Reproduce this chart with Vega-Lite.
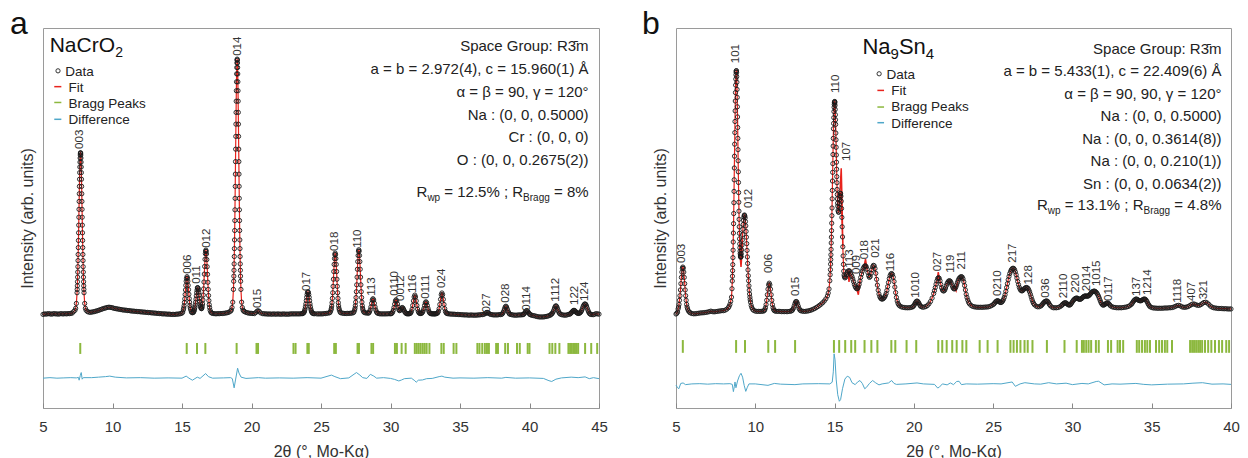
{
"$schema": "https://vega.github.io/schema/vega-lite/v6.json",
"padding": {"left": 9, "top": 7, "right": 0, "bottom": 0},
"spacing": 33,
"config": {
 "font": "Liberation Sans",
 "view": {"stroke": "#9a9a9a", "strokeWidth": 1},
 "axisX": {"grid": false, "domain": false, "tickSize": -5, "tickColor": "#888", "labelPadding": 16, "labelFontSize": 15, "labelColor": "#333", "labelFlush": false, "titleFontSize": 16, "titleFontWeight": "normal", "titleColor": "#333", "titlePadding": 9},
 "axisY": {"grid": false, "domain": false, "ticks": false, "labels": false, "titleFontSize": 16, "titleFontWeight": "normal", "titleColor": "#333", "titlePadding": 8}
},
"datasets": {
"ab": [{"x":7.68},{"x":15.34},{"x":16.08},{"x":16.68},{"x":18.93},{"x":20.36},{"x":20.47},{"x":23.02},{"x":23.17},{"x":24.02},{"x":24.12},{"x":25.95},{"x":26.07},{"x":27.63},{"x":27.73},{"x":28.63},{"x":28.75},{"x":30.32},{"x":30.46},{"x":30.8},{"x":31.09},{"x":31.75},{"x":31.89},{"x":32.03},{"x":32.17},{"x":32.32},{"x":32.46},{"x":32.6},{"x":32.8},{"x":33.66},{"x":33.83},{"x":34.54},{"x":34.74},{"x":36.25},{"x":36.4},{"x":36.6},{"x":36.79},{"x":36.94},{"x":37.08},{"x":37.6},{"x":37.73},{"x":38.25},{"x":38.45},{"x":39.1},{"x":39.3},{"x":39.87},{"x":40.0},{"x":41.44},{"x":41.64},{"x":41.86},{"x":42.15},{"x":42.8},{"x":42.92},{"x":43.04},{"x":43.15},{"x":43.27},{"x":43.38},{"x":43.5},{"x":44.0},{"x":44.44},{"x":44.87}],
"ad": [{"x":5.0,"y":-24.8},{"x":5.5,"y":-24.6},{"x":6.0,"y":-24.8},{"x":6.5,"y":-24.7},{"x":7.0,"y":-24.6},{"x":7.4,"y":-24.7},{"x":7.55,"y":-24.5},{"x":7.6,"y":-25.6},{"x":7.68,"y":-23.8},{"x":7.75,"y":-22.6},{"x":7.82,"y":-25.2},{"x":7.9,"y":-24.6},{"x":8.5,"y":-24.6},{"x":9.0,"y":-24.4},{"x":9.5,"y":-24.2},{"x":9.8,"y":-24.0},{"x":10.2,"y":-24.4},{"x":11.0,"y":-24.7},{"x":12.0,"y":-24.6},{"x":13.0,"y":-24.8},{"x":14.0,"y":-24.7},{"x":15.0,"y":-24.8},{"x":15.3,"y":-24.0},{"x":15.5,"y":-24.8},{"x":15.75,"y":-25.6},{"x":16.1,"y":-24.4},{"x":16.3,"y":-24.9},{"x":16.7,"y":-23.0},{"x":16.9,"y":-24.2},{"x":17.2,"y":-24.8},{"x":18.0,"y":-24.7},{"x":18.5,"y":-24.6},{"x":18.62,"y":-25.0},{"x":18.75,"y":-28.6},{"x":18.85,"y":-25.5},{"x":19.0,"y":-20.9},{"x":19.1,"y":-22.8},{"x":19.25,"y":-24.4},{"x":19.6,"y":-24.9},{"x":20.5,"y":-24.6},{"x":21.0,"y":-24.8},{"x":22.0,"y":-24.7},{"x":23.0,"y":-24.8},{"x":24.0,"y":-24.6},{"x":25.0,"y":-24.8},{"x":25.75,"y":-23.6},{"x":26.0,"y":-24.2},{"x":26.4,"y":-25.0},{"x":27.0,"y":-24.7},{"x":27.55,"y":-22.6},{"x":27.8,"y":-23.6},{"x":28.0,"y":-24.6},{"x":28.3,"y":-24.9},{"x":28.55,"y":-23.3},{"x":28.8,"y":-24.0},{"x":29.0,"y":-24.8},{"x":29.5,"y":-24.6},{"x":30.0,"y":-24.9},{"x":30.3,"y":-25.3},{"x":30.6,"y":-25.9},{"x":30.8,"y":-25.5},{"x":31.0,"y":-25.0},{"x":31.5,"y":-24.8},{"x":31.75,"y":-25.8},{"x":31.85,"y":-26.4},{"x":32.0,"y":-25.6},{"x":32.3,"y":-25.5},{"x":32.6,"y":-25.0},{"x":33.0,"y":-24.9},{"x":33.5,"y":-24.2},{"x":33.7,"y":-24.0},{"x":33.9,"y":-24.4},{"x":34.5,"y":-24.8},{"x":35.0,"y":-24.7},{"x":36.0,"y":-24.8},{"x":37.0,"y":-24.6},{"x":38.0,"y":-24.8},{"x":38.3,"y":-24.5},{"x":39.0,"y":-24.8},{"x":40.0,"y":-24.7},{"x":41.0,"y":-24.9},{"x":41.4,"y":-25.8},{"x":41.6,"y":-26.1},{"x":41.9,"y":-25.2},{"x":42.3,"y":-24.7},{"x":43.0,"y":-24.4},{"x":43.5,"y":-24.6},{"x":44.0,"y":-24.3},{"x":44.3,"y":-25.0},{"x":44.6,"y":-24.6},{"x":45.0,"y":-25.0}],
"al": [{"x":7.67,"y":65.1,"t":"003"},{"x":15.4,"y":16.1,"t":"006"},{"x":16.05,"y":12.2,"t":"011"},{"x":16.77,"y":26.3,"t":"012"},{"x":19.03,"y":101.6,"t":"014"},{"x":20.49,"y":2.7,"t":"015"},{"x":24.02,"y":9.4,"t":"017"},{"x":26.0,"y":25.1,"t":"018"},{"x":27.68,"y":26.3,"t":"110"},{"x":28.69,"y":7.5,"t":"113"},{"x":30.32,"y":7.5,"t":"0110"},{"x":30.78,"y":5.5,"t":"0012"},{"x":31.64,"y":8.6,"t":"116"},{"x":32.54,"y":6.3,"t":"0111"},{"x":33.73,"y":10.6,"t":"024"},{"x":36.97,"y":0.9,"t":"027"},{"x":38.33,"y":4.8,"t":"028"},{"x":39.84,"y":1.6,"t":"0114"},{"x":41.93,"y":5.2,"t":"1112"},{"x":43.25,"y":3.9,"t":"122"},{"x":44.02,"y":5.5,"t":"124"}],
"ao": [{"x":5.0,"y":0.2},{"x":5.1,"y":0.4},{"x":5.2,"y":0.3},{"x":5.3,"y":0.4},{"x":5.4,"y":0.5},{"x":5.5,"y":0.4},{"x":5.6,"y":0.3},{"x":5.7,"y":0.4},{"x":5.8,"y":0.5},{"x":5.9,"y":0.4},{"x":6.0,"y":0.4},{"x":6.1,"y":0.3},{"x":6.2,"y":0.4},{"x":6.3,"y":0.5},{"x":6.4,"y":0.4},{"x":6.5,"y":0.4},{"x":6.6,"y":0.5},{"x":6.7,"y":0.4},{"x":6.8,"y":0.5},{"x":6.9,"y":0.5},{"x":7.0,"y":0.6},{"x":7.1,"y":0.7},{"x":7.2,"y":1.3},{"x":7.3,"y":1.8},{"x":7.35,"y":2.6},{"x":7.4,"y":4.5},{"x":7.45,"y":8.7},
{"x":7.46,"y":10.0},{"x":7.47,"y":11.4},{"x":7.48,"y":13.0},{"x":7.49,"y":14.8},{"x":7.5,"y":16.8},{"x":7.51,"y":18.9},{"x":7.52,"y":21.3},{"x":7.53,"y":23.7},{"x":7.54,"y":26.4},{"x":7.55,"y":29.2},{"x":7.56,"y":32.2},{"x":7.57,"y":35.2},{"x":7.58,"y":38.3},{"x":7.59,"y":41.4},{"x":7.6,"y":44.5},{"x":7.61,"y":47.5},{"x":7.62,"y":50.4},{"x":7.63,"y":53.2},{"x":7.64,"y":55.8},{"x":7.65,"y":58.0},{"x":7.66,"y":59.9},{"x":7.67,"y":61.5},{"x":7.68,"y":62.7},{"x":7.69,"y":63.4},{"x":7.7,"y":63.6},{"x":7.71,"y":63.4},{"x":7.72,"y":62.7},{"x":7.73,"y":61.5},{"x":7.74,"y":59.9},{"x":7.75,"y":58.0},{"x":7.76,"y":55.8},{"x":7.77,"y":53.2},{"x":7.78,"y":50.4},{"x":7.79,"y":47.5},{"x":7.8,"y":44.5},{"x":7.81,"y":41.4},{"x":7.82,"y":38.3},{"x":7.83,"y":35.2},{"x":7.84,"y":32.2},{"x":7.85,"y":29.2},{"x":7.86,"y":26.4},{"x":7.87,"y":23.7},{"x":7.88,"y":21.3},{"x":7.89,"y":18.9},{"x":7.9,"y":16.8},{"x":7.91,"y":14.8},{"x":7.92,"y":13.0},{"x":7.93,"y":11.4},{"x":7.94,"y":10.0},{"x":7.95,"y":8.7},{"x":8.0,"y":4.5},{"x":8.05,"y":2.6},{"x":8.1,"y":1.8},{"x":8.2,"y":1.3},
{"x":8.3,"y":1.1},{"x":8.4,"y":1.0},{"x":8.5,"y":1.1},{"x":8.6,"y":1.2},{"x":8.7,"y":1.3},{"x":8.8,"y":1.5},{"x":8.9,"y":1.6},{"x":9.0,"y":1.8},{"x":9.1,"y":2.0},{"x":9.2,"y":2.2},{"x":9.3,"y":2.4},{"x":9.4,"y":2.6},{"x":9.5,"y":2.7},{"x":9.6,"y":2.9},{"x":9.7,"y":3.0},{"x":9.8,"y":3.0},{"x":9.9,"y":2.9},{"x":10.0,"y":2.8},{"x":10.1,"y":2.6},{"x":10.2,"y":2.5},{"x":10.3,"y":2.4},{"x":10.4,"y":2.3},{"x":10.5,"y":2.2},{"x":10.6,"y":2.1},{"x":10.7,"y":2.0},{"x":10.8,"y":1.9},{"x":10.9,"y":1.9},{"x":11.0,"y":1.8},{"x":11.1,"y":1.7},{"x":11.2,"y":1.7},{"x":11.3,"y":1.6},{"x":11.4,"y":1.5},{"x":11.5,"y":1.5},{"x":11.6,"y":1.4},{"x":11.7,"y":1.4},{"x":11.8,"y":1.3},{"x":11.9,"y":1.3},{"x":12.0,"y":1.2},{"x":12.1,"y":1.2},{"x":12.2,"y":1.1},{"x":12.3,"y":1.1},{"x":12.4,"y":1.0},{"x":12.5,"y":1.0},{"x":12.6,"y":0.9},{"x":12.7,"y":0.9},{"x":12.8,"y":0.8},{"x":12.9,"y":0.8},{"x":13.0,"y":0.7},{"x":13.1,"y":0.7},{"x":13.2,"y":0.6},{"x":13.3,"y":0.6},{"x":13.4,"y":0.5},{"x":13.5,"y":0.5},{"x":13.6,"y":0.4},{"x":13.7,"y":0.4},{"x":13.8,"y":0.4},{"x":13.9,"y":0.3},{"x":14.0,"y":0.3},{"x":14.1,"y":0.3},{"x":14.2,"y":0.2},{"x":14.3,"y":0.2},{"x":14.4,"y":0.2},{"x":14.5,"y":0.2},{"x":14.6,"y":0.3},{"x":14.7,"y":0.3},{"x":14.8,"y":0.4},{"x":14.9,"y":0.5},{"x":15.0,"y":0.7},
{"x":15.05,"y":1.1},{"x":15.1,"y":2.0},{"x":15.125,"y":2.7},{"x":15.15,"y":3.6},{"x":15.175,"y":4.9},{"x":15.2,"y":6.3},{"x":15.225,"y":8.0},{"x":15.25,"y":9.8},{"x":15.275,"y":11.6},{"x":15.3,"y":13.2},{"x":15.325,"y":14.3},{"x":15.36,"y":15.0},{"x":15.395,"y":14.4},{"x":15.42,"y":13.2},{"x":15.445,"y":11.6},{"x":15.47,"y":9.9},{"x":15.495,"y":8.1},{"x":15.52,"y":6.4},{"x":15.545,"y":5.0},{"x":15.57,"y":3.7},{"x":15.595,"y":2.8},{"x":15.62,"y":2.1},{"x":15.67,"y":1.2},{"x":15.72,"y":0.9},{"x":15.77,"y":0.86},{"x":15.82,"y":1.0},{"x":15.85,"y":1.3},{"x":15.88,"y":1.75},{"x":15.905,"y":2.3},{"x":15.93,"y":3.0},{"x":15.955,"y":3.9},{"x":15.98,"y":5.0},{"x":16.005,"y":6.2},{"x":16.03,"y":7.5},{"x":16.055,"y":8.7},{"x":16.08,"y":9.7},{"x":16.105,"y":10.6},{"x":16.13,"y":10.7},{"x":16.155,"y":10.5},{"x":16.18,"y":9.85},{"x":16.205,"y":8.9},{"x":16.23,"y":7.7},{"x":16.255,"y":6.4},{"x":16.28,"y":5.25},{"x":16.305,"y":4.25},{"x":16.33,"y":3.4},{"x":16.355,"y":2.9},{"x":16.38,"y":2.5},{"x":16.405,"y":2.45},{"x":16.43,"y":2.7},{"x":16.455,"y":3.35},{"x":16.48,"y":4.3},{"x":16.505,"y":5.85},{"x":16.53,"y":7.8},{"x":16.555,"y":10.2},{"x":16.58,"y":12.9},{"x":16.605,"y":16.0},{"x":16.63,"y":19.0},{"x":16.655,"y":21.8},{"x":16.68,"y":24.0},{"x":16.7,"y":25.0},{"x":16.72,"y":25.4},{"x":16.74,"y":24.9},{"x":16.76,"y":23.9},{"x":16.785,"y":21.7},{"x":16.81,"y":18.9},{"x":16.835,"y":15.9},{"x":16.86,"y":12.8},{"x":16.885,"y":10.0},{"x":16.91,"y":7.6},{"x":16.935,"y":5.6},{"x":16.96,"y":4.0},{"x":16.985,"y":2.9},{"x":17.02,"y":1.85},{"x":17.07,"y":1.1},{"x":17.12,"y":0.8},{"x":17.2,"y":0.6},{"x":17.3,"y":0.5},{"x":17.4,"y":0.45},{"x":17.5,"y":0.45},{"x":17.6,"y":0.5},{"x":17.7,"y":0.5},{"x":17.8,"y":0.55},{"x":17.9,"y":0.55},{"x":18.0,"y":0.6},{"x":18.1,"y":0.7},{"x":18.2,"y":0.8},{"x":18.3,"y":0.9},{"x":18.4,"y":1.15},{"x":18.5,"y":1.5},{"x":18.55,"y":1.9},{"x":18.6,"y":2.9},{"x":18.65,"y":5.0},{"x":18.7,"y":10.0},{"x":18.72,"y":13.2},
{"x":18.73,"y":15.2},{"x":18.74,"y":17.5},{"x":18.75,"y":20.0},{"x":18.76,"y":22.9},{"x":18.77,"y":26.0},{"x":18.78,"y":29.4},{"x":18.79,"y":33.1},{"x":18.8,"y":37.0},{"x":18.81,"y":41.2},{"x":18.82,"y":45.7},{"x":18.83,"y":50.4},{"x":18.84,"y":55.2},{"x":18.85,"y":60.1},{"x":18.86,"y":65.0},{"x":18.87,"y":70.0},{"x":18.88,"y":74.8},{"x":18.89,"y":79.4},{"x":18.9,"y":83.8},{"x":18.91,"y":87.9},{"x":18.92,"y":91.4},{"x":18.93,"y":94.5},{"x":18.94,"y":97.0},{"x":18.95,"y":98.8},{"x":18.96,"y":99.9},{"x":18.97,"y":100.3},{"x":18.98,"y":99.9},{"x":18.99,"y":98.8},{"x":19.0,"y":97.0},{"x":19.01,"y":94.5},{"x":19.02,"y":91.4},{"x":19.03,"y":87.9},{"x":19.04,"y":83.8},{"x":19.05,"y":79.4},{"x":19.06,"y":74.8},{"x":19.07,"y":70.0},{"x":19.08,"y":65.0},{"x":19.09,"y":60.1},{"x":19.1,"y":55.2},{"x":19.11,"y":50.4},{"x":19.12,"y":45.7},{"x":19.13,"y":41.2},{"x":19.14,"y":37.0},{"x":19.15,"y":33.1},{"x":19.16,"y":29.4},{"x":19.17,"y":26.0},{"x":19.18,"y":22.9},{"x":19.19,"y":20.0},{"x":19.2,"y":17.5},{"x":19.21,"y":15.2},{"x":19.22,"y":13.2},{"x":19.24,"y":10.0},{"x":19.29,"y":5.0},{"x":19.34,"y":2.9},{"x":19.39,"y":1.9},{"x":19.44,"y":1.5},{"x":19.5,"y":1.3},{"x":19.6,"y":1.0},{"x":19.7,"y":0.85},{"x":19.8,"y":0.7},{"x":19.9,"y":0.65},{"x":20.0,"y":0.6},{"x":20.1,"y":0.55},{"x":20.2,"y":0.5},{"x":20.3,"y":0.9},{"x":20.4,"y":1.45},{"x":20.47,"y":1.65},{"x":20.55,"y":1.4},{"x":20.65,"y":0.8},{"x":20.8,"y":0.5},{"x":20.9,"y":0.45},{"x":21.0,"y":0.4},{"x":21.1,"y":0.4},{"x":21.2,"y":0.3},{"x":21.3,"y":0.4},{"x":21.4,"y":0.3},{"x":21.5,"y":0.3},{"x":21.6,"y":0.4},{"x":21.7,"y":0.3},{"x":21.8,"y":0.3},{"x":21.9,"y":0.4},{"x":22.0,"y":0.3},{"x":22.1,"y":0.3},{"x":22.2,"y":0.3},{"x":22.3,"y":0.4},{"x":22.4,"y":0.3},{"x":22.5,"y":0.3},{"x":22.6,"y":0.3},{"x":22.7,"y":0.3},{"x":22.8,"y":0.4},{"x":22.9,"y":0.4},{"x":23.0,"y":0.4},{"x":23.1,"y":0.4},{"x":23.2,"y":0.4},{"x":23.3,"y":0.4},{"x":23.4,"y":0.4},{"x":23.5,"y":0.4},{"x":23.6,"y":0.5},{"x":23.66,"y":0.5},{"x":23.71,"y":0.6},{"x":23.76,"y":0.85},{"x":23.79,"y":1.15},{"x":23.82,"y":1.6},{"x":23.85,"y":2.3},{"x":23.88,"y":3.2},{"x":23.91,"y":4.3},{"x":23.94,"y":5.6},{"x":23.97,"y":6.9},{"x":24.0,"y":8.0},{"x":24.03,"y":8.8},{"x":24.06,"y":9.1},{"x":24.09,"y":8.8},{"x":24.12,"y":8.0},{"x":24.15,"y":6.9},{"x":24.18,"y":5.6},{"x":24.21,"y":4.3},{"x":24.24,"y":3.2},{"x":24.27,"y":2.3},{"x":24.3,"y":1.6},{"x":24.33,"y":1.15},{"x":24.36,"y":0.85},{"x":24.41,"y":0.6},{"x":24.46,"y":0.5},{"x":24.55,"y":0.45},{"x":24.7,"y":0.4},{"x":24.8,"y":0.4},{"x":24.9,"y":0.4},{"x":25.0,"y":0.4},{"x":25.1,"y":0.4},{"x":25.2,"y":0.5},{"x":25.3,"y":0.5},{"x":25.4,"y":0.6},{"x":25.52,"y":0.7},{"x":25.62,"y":0.85},{"x":25.67,"y":1.15},{"x":25.72,"y":1.9},{"x":25.745,"y":2.55},{"x":25.77,"y":3.5},{"x":25.795,"y":4.8},{"x":25.82,"y":6.5},{"x":25.845,"y":8.7},{"x":25.87,"y":11.2},{"x":25.895,"y":14.0},{"x":25.92,"y":17.0},{"x":25.945,"y":19.8},{"x":25.97,"y":22.1},{"x":25.995,"y":23.65},{"x":26.02,"y":24.2},{"x":26.045,"y":23.65},{"x":26.07,"y":22.1},{"x":26.095,"y":19.8},{"x":26.12,"y":17.0},{"x":26.145,"y":14.0},{"x":26.17,"y":11.2},{"x":26.195,"y":8.7},{"x":26.22,"y":6.5},{"x":26.245,"y":4.8},{"x":26.27,"y":3.5},{"x":26.295,"y":2.55},{"x":26.32,"y":1.9},{"x":26.37,"y":1.15},{"x":26.42,"y":0.85},{"x":26.52,"y":0.7},{"x":26.62,"y":0.6},{"x":26.72,"y":0.55},{"x":26.82,"y":0.55},{"x":26.92,"y":0.6},{"x":27.02,"y":0.6},{"x":27.12,"y":0.65},{"x":27.22,"y":0.7},{"x":27.32,"y":0.85},{"x":27.37,"y":1.15},{"x":27.42,"y":1.9},{"x":27.445,"y":2.6},{"x":27.47,"y":3.6},{"x":27.495,"y":5.0},{"x":27.52,"y":6.8},{"x":27.545,"y":9.1},{"x":27.57,"y":11.8},{"x":27.595,"y":14.8},{"x":27.62,"y":17.9},{"x":27.645,"y":20.9},{"x":27.67,"y":23.3},{"x":27.695,"y":25.0},{"x":27.72,"y":25.55},{"x":27.745,"y":25.0},{"x":27.77,"y":23.3},{"x":27.795,"y":20.9},{"x":27.82,"y":17.9},{"x":27.845,"y":14.8},{"x":27.87,"y":11.8},{"x":27.895,"y":9.1},{"x":27.92,"y":6.8},{"x":27.945,"y":5.0},{"x":27.97,"y":3.6},{"x":27.995,"y":2.6},{"x":28.02,"y":1.9},{"x":28.07,"y":1.2},{"x":28.12,"y":0.95},{"x":28.22,"y":0.75},{"x":28.32,"y":0.75},{"x":28.4,"y":0.7},{"x":28.44,"y":0.8},{"x":28.49,"y":1.2},{"x":28.54,"y":1.95},{"x":28.59,"y":3.1},{"x":28.64,"y":4.55},{"x":28.69,"y":5.85},{"x":28.74,"y":6.35},{"x":28.79,"y":5.85},{"x":28.84,"y":4.55},{"x":28.89,"y":3.1},{"x":28.94,"y":1.95},{"x":28.99,"y":1.2},{"x":29.04,"y":0.8},{"x":29.1,"y":0.6},{"x":29.2,"y":0.45},{"x":29.3,"y":0.4},{"x":29.4,"y":0.4},{"x":29.5,"y":0.4},{"x":29.6,"y":0.4},{"x":29.7,"y":0.4},{"x":29.8,"y":0.45},{"x":29.9,"y":0.45},{"x":30.0,"y":0.45},{"x":30.05,"y":0.5},{"x":30.1,"y":0.65},{"x":30.15,"y":1.05},{"x":30.2,"y":1.8},{"x":30.25,"y":2.9},{"x":30.3,"y":4.25},{"x":30.35,"y":5.45},{"x":30.4,"y":5.95},{"x":30.45,"y":5.45},{"x":30.5,"y":4.3},{"x":30.55,"y":3.0},{"x":30.6,"y":2.06},{"x":30.65,"y":1.66},{"x":30.7,"y":1.8},{"x":30.75,"y":2.2},{"x":30.8,"y":2.7},{"x":30.85,"y":2.9},{"x":30.9,"y":2.65},{"x":30.95,"y":2.1},{"x":31.0,"y":1.5},{"x":31.05,"y":1.0},{"x":31.1,"y":0.7},{"x":31.15,"y":0.5},{"x":31.2,"y":0.45},{"x":31.25,"y":0.45},{"x":31.3,"y":0.45},{"x":31.35,"y":0.45},{"x":31.4,"y":0.55},{"x":31.45,"y":0.75},{"x":31.5,"y":1.25},{"x":31.55,"y":2.2},{"x":31.6,"y":3.7},{"x":31.65,"y":5.5},{"x":31.7,"y":7.05},{"x":31.75,"y":7.75},{"x":31.8,"y":7.05},{"x":31.85,"y":5.5},{"x":31.9,"y":3.7},{"x":31.95,"y":2.25},{"x":32.0,"y":1.3},{"x":32.05,"y":0.8},{"x":32.1,"y":0.6},{"x":32.15,"y":0.55},{"x":32.2,"y":0.55},{"x":32.25,"y":0.7},{"x":32.3,"y":1.0},{"x":32.35,"y":1.6},{"x":32.4,"y":2.5},{"x":32.45,"y":3.7},{"x":32.5,"y":4.7},{"x":32.55,"y":5.15},{"x":32.6,"y":4.75},{"x":32.65,"y":3.7},{"x":32.7,"y":2.55},{"x":32.75,"y":1.6},{"x":32.8,"y":0.95},{"x":32.85,"y":0.65},{"x":32.9,"y":0.5},{"x":32.95,"y":0.45},{"x":33.0,"y":0.42},{"x":33.05,"y":0.45},{"x":33.1,"y":0.4},{"x":33.15,"y":0.4},{"x":33.2,"y":0.4},{"x":33.25,"y":0.45},{"x":33.3,"y":0.5},{"x":33.35,"y":0.6},{"x":33.4,"y":0.85},{"x":33.45,"y":1.4},{"x":33.5,"y":2.45},{"x":33.55,"y":4.1},{"x":33.6,"y":6.1},{"x":33.65,"y":7.9},{"x":33.7,"y":8.6},{"x":33.75,"y":7.9},{"x":33.8,"y":6.1},{"x":33.85,"y":4.1},{"x":33.9,"y":2.45},{"x":33.95,"y":1.4},{"x":34.0,"y":0.85},{"x":34.05,"y":0.6},{"x":34.1,"y":0.5},{"x":34.2,"y":0.4},{"x":34.3,"y":0.35},{"x":34.4,"y":0.3},{"x":34.5,"y":0.3},{"x":34.6,"y":0.25},{"x":34.7,"y":0.2},{"x":34.8,"y":0.2},{"x":34.9,"y":0.15},{"x":35.0,"y":0.1},{"x":35.1,"y":0.1},{"x":35.2,"y":0.05},{"x":35.3,"y":0},{"x":35.4,"y":0},{"x":35.5,"y":0},{"x":35.6,"y":-0.1},{"x":35.7,"y":-0.1},{"x":35.8,"y":0},{"x":35.9,"y":-0.1},{"x":36.0,"y":-0.1},{"x":36.1,"y":-0.1},{"x":36.2,"y":-0.1},{"x":36.3,"y":0},{"x":36.4,"y":0},{"x":36.5,"y":0.1},{"x":36.6,"y":0.1},{"x":36.7,"y":0.2},{"x":36.8,"y":0.45},{"x":36.85,"y":0.7},{"x":36.9,"y":0.9},{"x":36.95,"y":1.0},{"x":37.0,"y":0.9},{"x":37.05,"y":0.7},{"x":37.1,"y":0.45},{"x":37.2,"y":0.2},{"x":37.3,"y":0.1},{"x":37.4,"y":0},{"x":37.5,"y":0},{"x":37.6,"y":0},{"x":37.7,"y":0},{"x":37.8,"y":0.1},{"x":37.9,"y":0.1},{"x":38.0,"y":0.2},{"x":38.05,"y":0.45},{"x":38.1,"y":0.9},{"x":38.15,"y":1.55},{"x":38.2,"y":2.37},{"x":38.25,"y":3.1},{"x":38.3,"y":3.4},{"x":38.35,"y":3.1},{"x":38.4,"y":2.37},{"x":38.45,"y":1.55},{"x":38.5,"y":0.9},{"x":38.55,"y":0.45},{"x":38.6,"y":0.25},{"x":38.7,"y":0.1},{"x":38.8,"y":0},{"x":38.9,"y":-0.1},{"x":39.0,"y":-0.1},{"x":39.1,"y":-0.1},{"x":39.2,"y":0},{"x":39.3,"y":0},{"x":39.4,"y":0},{"x":39.5,"y":0.1},{"x":39.55,"y":0.13},{"x":39.6,"y":0.36},{"x":39.65,"y":0.72},{"x":39.7,"y":1.15},{"x":39.75,"y":1.55},{"x":39.8,"y":1.7},{"x":39.85,"y":1.55},{"x":39.9,"y":1.15},{"x":39.95,"y":0.72},{"x":40.0,"y":0.36},{"x":40.05,"y":0.13},{"x":40.1,"y":0},{"x":40.2,"y":-0.2},{"x":40.3,"y":-0.3},{"x":40.4,"y":-0.4},{"x":40.5,"y":-0.6},{"x":40.6,"y":-0.7},{"x":40.7,"y":-0.8},{"x":40.8,"y":-0.8},{"x":40.9,"y":-0.8},{"x":41.0,"y":-0.8},{"x":41.1,"y":-0.7},{"x":41.2,"y":-0.6},{"x":41.3,"y":-0.5},{"x":41.4,"y":-0.3},{"x":41.5,"y":-0.1},{"x":41.55,"y":0.2},{"x":41.6,"y":0.4},{"x":41.65,"y":0.7},{"x":41.7,"y":1.2},{"x":41.75,"y":1.9},{"x":41.8,"y":2.7},{"x":41.85,"y":3.3},{"x":41.9,"y":3.6},{"x":41.95,"y":3.3},{"x":42.0,"y":2.7},{"x":42.05,"y":1.9},{"x":42.1,"y":1.2},{"x":42.15,"y":0.7},{"x":42.2,"y":0.35},{"x":42.3,"y":0.1},{"x":42.4,"y":0},{"x":42.5,"y":-0.1},{"x":42.6,"y":-0.1},{"x":42.7,"y":0},{"x":42.8,"y":0.2},{"x":42.9,"y":0.3},{"x":42.95,"y":0.5},{"x":43.0,"y":0.8},{"x":43.05,"y":1.1},{"x":43.1,"y":1.45},{"x":43.15,"y":1.7},{"x":43.2,"y":1.8},{"x":43.25,"y":1.7},{"x":43.3,"y":1.45},{"x":43.35,"y":1.1},{"x":43.4,"y":0.85},{"x":43.45,"y":0.7},{"x":43.5,"y":0.6},{"x":43.55,"y":0.6},{"x":43.6,"y":0.7},{"x":43.65,"y":0.9},{"x":43.7,"y":1.2},{"x":43.75,"y":1.7},{"x":43.8,"y":2.4},{"x":43.85,"y":3.2},{"x":43.9,"y":3.8},{"x":43.95,"y":4.2},{"x":44.0,"y":4.3},{"x":44.05,"y":4.1},{"x":44.1,"y":3.5},{"x":44.15,"y":2.7},{"x":44.2,"y":1.9},{"x":44.25,"y":1.2},{"x":44.3,"y":0.7},{"x":44.35,"y":0.4},{"x":44.4,"y":0.2},{"x":44.5,"y":0.1},{"x":44.6,"y":0.1},{"x":44.7,"y":0.3},{"x":44.8,"y":0.5},{"x":44.9,"y":0.4},{"x":45.0,"y":0.3}],
"bb": [{"x":5.43},{"x":8.79},{"x":9.35},{"x":10.82},{"x":11.25},{"x":12.51},{"x":14.96},{"x":15.29},{"x":15.67},{"x":16.05},{"x":16.3},{"x":16.89},{"x":17.32},{"x":17.7},{"x":18.58},{"x":18.83},{"x":19.54},{"x":20.15},{"x":21.54},{"x":21.79},{"x":22.07},{"x":22.42},{"x":22.7},{"x":23.06},{"x":23.31},{"x":24.15},{"x":24.65},{"x":25.28},{"x":26.09},{"x":26.29},{"x":26.5},{"x":26.72},{"x":26.98},{"x":27.18},{"x":27.48},{"x":28.39},{"x":29.5},{"x":30.27},{"x":30.6},{"x":30.72},{"x":30.87},{"x":31.02},{"x":31.18},{"x":31.48},{"x":31.66},{"x":32.24},{"x":32.44},{"x":32.85},{"x":33.0},{"x":33.2},{"x":34.06},{"x":34.21},{"x":34.39},{"x":34.57},{"x":34.72},{"x":34.89},{"x":35.27},{"x":35.47},{"x":35.65},{"x":35.83},{"x":35.98},{"x":36.28},{"x":37.42},{"x":37.55},{"x":37.67},{"x":37.8},{"x":37.93},{"x":38.05},{"x":38.18},{"x":38.36},{"x":38.56},{"x":38.76},{"x":38.99},{"x":39.24},{"x":39.44},{"x":39.7},{"x":39.88}],
"bd": [{"x":5.0,"y":-29.5},{"x":5.1,"y":-30.6},{"x":5.18,"y":-31.0},{"x":5.3,"y":-28.8},{"x":5.45,"y":-28.6},{"x":5.6,"y":-29.3},{"x":6.0,"y":-29.0},{"x":6.5,"y":-28.9},{"x":7.0,"y":-29.1},{"x":7.5,"y":-28.9},{"x":8.0,"y":-29.0},{"x":8.4,"y":-28.9},{"x":8.55,"y":-29.2},{"x":8.62,"y":-32.2},{"x":8.68,"y":-30.0},{"x":8.72,"y":-28.2},{"x":8.78,"y":-30.6},{"x":8.88,"y":-27.8},{"x":9.0,"y":-25.6},{"x":9.1,"y":-24.6},{"x":9.2,"y":-26.2},{"x":9.3,"y":-29.6},{"x":9.4,"y":-32.1},{"x":9.5,"y":-30.4},{"x":9.6,"y":-29.0},{"x":10.0,"y":-29.0},{"x":10.8,"y":-29.6},{"x":11.2,"y":-28.8},{"x":11.6,"y":-29.1},{"x":12.5,"y":-29.3},{"x":13.0,"y":-29.0},{"x":14.0,"y":-28.9},{"x":14.7,"y":-29.0},{"x":14.85,"y":-28.3},{"x":14.92,"y":-24.0},{"x":14.97,"y":-16.5},{"x":15.03,"y":-19.0},{"x":15.1,"y":-27.0},{"x":15.2,"y":-33.5},{"x":15.3,"y":-36.2},{"x":15.38,"y":-35.5},{"x":15.5,"y":-31.0},{"x":15.65,"y":-27.0},{"x":15.8,"y":-25.8},{"x":15.95,"y":-26.3},{"x":16.1,"y":-28.5},{"x":16.3,"y":-29.3},{"x":16.45,"y":-28.2},{"x":16.6,"y":-27.6},{"x":16.75,"y":-28.8},{"x":16.9,"y":-31.0},{"x":17.0,"y":-30.5},{"x":17.2,"y":-28.8},{"x":17.4,"y":-27.6},{"x":17.6,"y":-28.6},{"x":17.8,"y":-29.4},{"x":18.0,"y":-29.0},{"x":18.4,"y":-28.6},{"x":18.6,"y":-27.6},{"x":18.75,"y":-28.8},{"x":18.9,"y":-29.2},{"x":19.5,"y":-29.0},{"x":20.2,"y":-28.6},{"x":20.6,"y":-29.0},{"x":21.3,"y":-29.2},{"x":21.5,"y":-30.7},{"x":21.6,"y":-30.4},{"x":21.8,"y":-29.0},{"x":22.1,"y":-29.4},{"x":22.3,"y":-28.6},{"x":22.5,"y":-29.3},{"x":22.7,"y":-28.0},{"x":22.85,"y":-27.9},{"x":23.0,"y":-29.3},{"x":23.3,"y":-29.0},{"x":24.0,"y":-29.1},{"x":25.0,"y":-28.9},{"x":25.5,"y":-29.0},{"x":26.2,"y":-28.2},{"x":26.4,"y":-30.0},{"x":26.7,"y":-29.0},{"x":27.0,"y":-28.5},{"x":27.6,"y":-29.0},{"x":28.0,"y":-29.1},{"x":28.5,"y":-28.5},{"x":29.0,"y":-29.0},{"x":29.6,"y":-28.7},{"x":30.0,"y":-29.3},{"x":30.6,"y":-28.8},{"x":31.0,"y":-29.0},{"x":31.5,"y":-28.0},{"x":31.65,"y":-27.9},{"x":32.0,"y":-29.4},{"x":32.5,"y":-29.0},{"x":33.0,"y":-29.1},{"x":34.0,"y":-28.8},{"x":34.5,"y":-29.2},{"x":35.0,"y":-29.4},{"x":36.0,"y":-29.1},{"x":37.0,"y":-29.0},{"x":37.6,"y":-28.7},{"x":38.2,"y":-28.5},{"x":38.8,"y":-29.1},{"x":39.5,"y":-29.0},{"x":40.0,"y":-29.2}],
"bf": [{"x":9.02,"y":29.1,"s":1},{"x":9.06,"y":23.0,"s":1},{"x":9.1,"y":19.5,"s":1},{"x":9.14,"y":23.5,"s":1},{"x":9.18,"y":30.7,"s":1},{"x":15.3,"y":45.7,"s":2},{"x":15.36,"y":53.0,"s":2},{"x":15.42,"y":60.5,"s":2},{"x":15.47,"y":47.0,"s":2},{"x":15.52,"y":27.9,"s":2},{"x":15.84,"y":17.7,"s":3},{"x":15.91,"y":13.3,"s":3},{"x":15.98,"y":17.3,"s":3},{"x":16.4,"y":10.5,"s":4},{"x":16.5,"y":8.0,"s":4},{"x":16.6,"y":13.7,"s":4},{"x":16.86,"y":19.7,"s":5},{"x":16.95,"y":22.8,"s":5},{"x":17.04,"y":18.8,"s":5},{"x":21.48,"y":14.4,"s":6},{"x":21.54,"y":17.4,"s":6},{"x":21.6,"y":14.8,"s":6},{"x":22.58,"y":10.5,"s":7},{"x":22.66,"y":9.6,"s":7},{"x":22.74,"y":12.7,"s":7}],
"bl": [{"x":5.4,"y":21.2,"t":"003"},{"x":8.77,"y":104.1,"t":"101"},{"x":9.61,"y":44.0,"t":"012"},{"x":10.89,"y":17.0,"t":"006"},{"x":12.55,"y":7.5,"t":"015"},{"x":15.08,"y":91.7,"t":"110"},{"x":15.81,"y":63.5,"t":"107"},{"x":16.0,"y":19.2,"t":"113"},{"x":16.42,"y":16.6,"t":"009"},{"x":16.94,"y":22.7,"t":"018"},{"x":17.6,"y":23.4,"t":"021"},{"x":18.58,"y":17.8,"t":"116"},{"x":20.14,"y":6.8,"t":"1010"},{"x":21.54,"y":17.8,"t":"027"},{"x":22.33,"y":17.1,"t":"119"},{"x":23.06,"y":18.5,"t":"211"},{"x":25.3,"y":7.5,"t":"0210"},{"x":26.27,"y":21.3,"t":"217"},{"x":27.27,"y":12.3,"t":"128"},{"x":28.32,"y":6.8,"t":"036"},{"x":29.48,"y":6.5,"t":"2110"},{"x":30.22,"y":8.8,"t":"220"},{"x":30.95,"y":9.5,"t":"2014"},{"x":31.58,"y":11.6,"t":"1015"},{"x":32.32,"y":5.4,"t":"0117"},{"x":34.1,"y":7.5,"t":"137"},{"x":34.74,"y":7.9,"t":"1214"},{"x":36.63,"y":4.7,"t":"1118"},{"x":37.57,"y":5.4,"t":"407"},{"x":38.31,"y":6.1,"t":"321"}],
"bo": [{"x":5.0,"y":0.0},{"x":5.05,"y":0.3},{"x":5.1,"y":0.8},{"x":5.13,"y":2.1},{"x":5.16,"y":2.9},{"x":5.19,"y":4.0},{"x":5.22,"y":5.7},{"x":5.25,"y":7.6},{"x":5.28,"y":10.0},{"x":5.31,"y":12.6},{"x":5.34,"y":15.2},{"x":5.37,"y":17.4},{"x":5.4,"y":19.0},{"x":5.43,"y":19.5},{"x":5.46,"y":19.0},{"x":5.49,"y":17.4},{"x":5.52,"y":15.2},{"x":5.55,"y":12.6},{"x":5.58,"y":10.0},{"x":5.61,"y":7.6},{"x":5.64,"y":5.7},{"x":5.67,"y":4.0},{"x":5.7,"y":2.9},{"x":5.73,"y":2.1},{"x":5.78,"y":1.3},{"x":5.85,"y":0.8},{"x":5.9,"y":0.5},{"x":6.0,"y":0.2},{"x":6.1,"y":0.1},{"x":6.2,"y":0.1},{"x":6.3,"y":0.2},{"x":6.4,"y":0.3},{"x":6.5,"y":0.4},{"x":6.6,"y":0.5},{"x":6.7,"y":0.5},{"x":6.8,"y":0.6},{"x":6.9,"y":0.7},{"x":7.0,"y":0.8},{"x":7.1,"y":1.0},{"x":7.2,"y":1.2},{"x":7.3,"y":1.0},{"x":7.4,"y":0.9},{"x":7.5,"y":1.0},{"x":7.6,"y":1.1},{"x":7.7,"y":1.2},{"x":7.8,"y":1.3},{"x":7.9,"y":1.4},{"x":8.0,"y":1.4},{"x":8.1,"y":1.6},{"x":8.2,"y":2.0},{"x":8.3,"y":2.6},{"x":8.35,"y":3.2},{"x":8.4,"y":4.0},{"x":8.45,"y":5.3},{"x":8.5,"y":7.0},{"x":8.53,"y":10.5},{"x":8.55,"y":13.7},{"x":8.56,"y":15.7},{"x":8.57,"y":18.0},{"x":8.58,"y":20.5},{"x":8.59,"y":23.4},{"x":8.6,"y":26.5},{"x":8.61,"y":29.9},{"x":8.62,"y":33.6},{"x":8.63,"y":37.5},{"x":8.64,"y":41.7},{"x":8.65,"y":46.2},{"x":8.66,"y":50.9},{"x":8.67,"y":55.7},{"x":8.68,"y":60.6},{"x":8.69,"y":65.5},{"x":8.7,"y":70.5},{"x":8.71,"y":75.3},{"x":8.72,"y":79.9},{"x":8.73,"y":84.3},{"x":8.74,"y":88.4},{"x":8.75,"y":91.9},{"x":8.76,"y":95.0},{"x":8.77,"y":97.5},{"x":8.78,"y":99.3},{"x":8.79,"y":100.4},{"x":8.8,"y":100.9},{"x":8.81,"y":101.0},{"x":8.82,"y":100.3},{"x":8.83,"y":98.5},{"x":8.84,"y":96.2},{"x":8.85,"y":93.2},{"x":8.86,"y":89.9},{"x":8.87,"y":86.0},{"x":8.88,"y":81.8},{"x":8.89,"y":77.4},{"x":8.9,"y":72.9},{"x":8.91,"y":68.2},{"x":8.92,"y":63.6},{"x":8.93,"y":59.0},{"x":8.94,"y":54.6},{"x":8.95,"y":50.4},{"x":8.96,"y":46.4},{"x":8.97,"y":42.7},{"x":8.98,"y":39.3},{"x":8.99,"y":36.2},{"x":9.0,"y":33.5},{"x":9.01,"y":31.2},{"x":9.02,"y":29.1},{"x":9.03,"y":27.5},{"x":9.04,"y":26.1},{"x":9.05,"y":25.1},{"x":9.06,"y":24.5},{"x":9.07,"y":23.9},{"x":9.08,"y":23.6},{"x":9.09,"y":23.7},{"x":9.1,"y":23.9},{"x":9.12,"y":25.0},{"x":9.14,"y":26.6},{"x":9.16,"y":28.6},{"x":9.18,"y":30.7},{"x":9.2,"y":33.0},{"x":9.22,"y":35.2},{"x":9.24,"y":37.2},{"x":9.26,"y":38.9},{"x":9.28,"y":40.2},{"x":9.3,"y":40.9},{"x":9.32,"y":41.1},{"x":9.34,"y":40.7},{"x":9.36,"y":39.9},{"x":9.38,"y":38.4},{"x":9.4,"y":36.6},{"x":9.42,"y":34.3},{"x":9.44,"y":31.9},{"x":9.46,"y":29.2},{"x":9.48,"y":26.4},{"x":9.5,"y":23.7},{"x":9.52,"y":21.0},{"x":9.54,"y":18.3},{"x":9.56,"y":15.9},{"x":9.58,"y":13.8},{"x":9.6,"y":11.7},{"x":9.62,"y":9.9},{"x":9.64,"y":8.3},{"x":9.66,"y":7.0},{"x":9.68,"y":5.9},{"x":9.7,"y":4.9},{"x":9.74,"y":3.6},{"x":9.78,"y":2.7},{"x":9.83,"y":2.0},{"x":9.9,"y":1.5},{"x":10.0,"y":1.2},{"x":10.1,"y":1.1},{"x":10.2,"y":1.1},{"x":10.3,"y":1.1},{"x":10.4,"y":1.1},{"x":10.5,"y":1.2},{"x":10.56,"y":1.4},{"x":10.6,"y":1.8},{"x":10.64,"y":2.6},{"x":10.68,"y":3.9},{"x":10.72,"y":5.7},{"x":10.76,"y":8.0},{"x":10.8,"y":10.3},{"x":10.84,"y":12.1},{"x":10.88,"y":12.8},{"x":10.92,"y":12.1},{"x":10.96,"y":10.3},{"x":11.0,"y":8.0},{"x":11.04,"y":5.7},{"x":11.08,"y":3.9},{"x":11.12,"y":2.6},{"x":11.16,"y":1.8},{"x":11.2,"y":1.4},{"x":11.26,"y":1.2},{"x":11.35,"y":1.1},{"x":11.45,"y":1.1},{"x":11.55,"y":1.1},{"x":11.65,"y":1.0},{"x":11.75,"y":1.0},{"x":11.85,"y":1.0},{"x":11.95,"y":1.0},{"x":12.05,"y":1.0},{"x":12.15,"y":1.1},{"x":12.25,"y":1.2},{"x":12.3,"y":1.4},{"x":12.35,"y":1.7},{"x":12.4,"y":2.3},{"x":12.45,"y":3.3},{"x":12.5,"y":4.3},{"x":12.54,"y":5.0},{"x":12.58,"y":5.2},{"x":12.62,"y":5.0},{"x":12.66,"y":4.3},{"x":12.71,"y":3.3},{"x":12.76,"y":2.3},{"x":12.81,"y":1.7},{"x":12.86,"y":1.4},{"x":12.95,"y":1.2},{"x":13.05,"y":1.1},{"x":13.15,"y":1.1},{"x":13.25,"y":1.2},{"x":13.35,"y":1.3},{"x":13.45,"y":1.5},{"x":13.55,"y":1.7},{"x":13.65,"y":2.0},{"x":13.75,"y":2.3},{"x":13.85,"y":2.7},{"x":13.95,"y":3.1},{"x":14.05,"y":3.6},{"x":14.15,"y":4.1},{"x":14.25,"y":4.7},{"x":14.35,"y":5.4},{"x":14.45,"y":6.3},{"x":14.55,"y":7.5},{"x":14.6,"y":8.7},{"x":14.65,"y":10.4},{"x":14.7,"y":13.8},{"x":14.72,"y":16.3},{"x":14.74,"y":18.4},{"x":14.75,"y":20.7},{"x":14.76,"y":22.6},{"x":14.77,"y":24.6},{"x":14.78,"y":26.8},{"x":14.79,"y":29.5},{"x":14.8,"y":31.9},{"x":14.81,"y":34.6},{"x":14.82,"y":37.7},{"x":14.83,"y":40.8},{"x":14.84,"y":44.0},{"x":14.85,"y":47.8},{"x":14.86,"y":51.3},{"x":14.87,"y":55.2},{"x":14.88,"y":58.8},{"x":14.89,"y":62.4},{"x":14.9,"y":66.2},{"x":14.91,"y":69.7},{"x":14.92,"y":72.9},{"x":14.93,"y":76.9},{"x":14.94,"y":79.1},{"x":14.95,"y":81.5},{"x":14.96,"y":84.0},{"x":14.97,"y":85.8},{"x":14.98,"y":87.0},{"x":14.99,"y":87.7},{"x":15.0,"y":88.1},{"x":15.01,"y":88.2},{"x":15.02,"y":87.7},{"x":15.03,"y":86.6},{"x":15.04,"y":84.9},{"x":15.05,"y":82.7},{"x":15.06,"y":80.6},{"x":15.07,"y":78.7},{"x":15.08,"y":75.1},{"x":15.09,"y":72.3},{"x":15.1,"y":69.2},{"x":15.11,"y":66.0},{"x":15.12,"y":63.0},{"x":15.13,"y":60.1},{"x":15.14,"y":57.0},{"x":15.15,"y":54.5},{"x":15.16,"y":51.7},{"x":15.17,"y":49.6},{"x":15.18,"y":47.8},{"x":15.19,"y":46.0},{"x":15.2,"y":44.8},{"x":15.22,"y":43.0},{"x":15.24,"y":42.4},{"x":15.26,"y":42.2},{"x":15.28,"y":44.2},{"x":15.3,"y":45.7},{"x":15.32,"y":47.5},{"x":15.34,"y":49.1},{"x":15.36,"y":49.9},{"x":15.38,"y":50.1},{"x":15.4,"y":48.9},{"x":15.42,"y":46.8},{"x":15.44,"y":43.8},{"x":15.46,"y":40.1},{"x":15.48,"y":36.2},{"x":15.5,"y":32.0},{"x":15.52,"y":27.9},{"x":15.54,"y":24.1},{"x":15.56,"y":20.6},{"x":15.58,"y":17.8},{"x":15.6,"y":16.2},{"x":15.62,"y":15.5},{"x":15.65,"y":15.0},{"x":15.7,"y":15.3},{"x":15.75,"y":16.2},{"x":15.8,"y":17.2},{"x":15.85,"y":17.8},{"x":15.9,"y":18.0},{"x":15.95,"y":17.8},{"x":16.0,"y":17.0},{"x":16.05,"y":16.2},{"x":16.1,"y":15.5},{"x":16.15,"y":14.5},{"x":16.2,"y":13.4},{"x":16.25,"y":12.3},{"x":16.3,"y":11.4},{"x":16.35,"y":10.8},{"x":16.4,"y":10.5},{"x":16.45,"y":10.6},{"x":16.5,"y":11.2},{"x":16.55,"y":12.3},{"x":16.6,"y":13.7},{"x":16.65,"y":15.2},{"x":16.7,"y":16.6},{"x":16.75,"y":17.8},{"x":16.8,"y":18.8},{"x":16.85,"y":19.5},{"x":16.9,"y":19.9},{"x":16.95,"y":20.0},{"x":17.0,"y":19.6},{"x":17.05,"y":18.6},{"x":17.1,"y":17.2},{"x":17.15,"y":15.9},{"x":17.2,"y":15.2},{"x":17.25,"y":15.6},{"x":17.3,"y":16.9},{"x":17.35,"y":18.4},{"x":17.4,"y":19.6},{"x":17.45,"y":20.2},{"x":17.5,"y":20.0},{"x":17.55,"y":18.9},{"x":17.6,"y":16.9},{"x":17.65,"y":14.4},{"x":17.7,"y":12.0},{"x":17.75,"y":9.9},{"x":17.8,"y":8.3},{"x":17.85,"y":7.2},{"x":17.9,"y":6.6},{"x":17.95,"y":6.3},{"x":18.0,"y":6.2},{"x":18.05,"y":6.3},{"x":18.1,"y":6.6},{"x":18.15,"y":7.0},{"x":18.2,"y":7.6},{"x":18.25,"y":8.5},{"x":18.3,"y":9.8},{"x":18.35,"y":11.4},{"x":18.4,"y":13.1},{"x":18.45,"y":14.7},{"x":18.5,"y":15.9},{"x":18.55,"y":16.6},{"x":18.6,"y":16.8},{"x":18.65,"y":16.4},{"x":18.7,"y":15.3},{"x":18.75,"y":13.5},{"x":18.8,"y":11.2},{"x":18.85,"y":8.9},{"x":18.9,"y":6.9},{"x":18.95,"y":5.4},{"x":19.0,"y":4.4},{"x":19.05,"y":3.8},{"x":19.1,"y":3.4},{"x":19.2,"y":3.0},{"x":19.3,"y":2.8},{"x":19.4,"y":2.7},{"x":19.5,"y":2.6},{"x":19.6,"y":2.6},{"x":19.7,"y":2.6},{"x":19.8,"y":2.7},{"x":19.9,"y":2.9},{"x":19.95,"y":3.1},{"x":20.0,"y":3.5},{"x":20.05,"y":4.1},{"x":20.1,"y":4.7},{"x":20.15,"y":5.2},{"x":20.2,"y":5.4},{"x":20.25,"y":5.2},{"x":20.3,"y":4.7},{"x":20.35,"y":4.1},{"x":20.4,"y":3.5},{"x":20.45,"y":3.1},{"x":20.55,"y":2.8},{"x":20.65,"y":2.9},{"x":20.75,"y":3.1},{"x":20.85,"y":3.5},{"x":20.95,"y":4.2},{"x":21.05,"y":5.2},{"x":21.15,"y":6.6},{"x":21.25,"y":8.5},{"x":21.3,"y":9.7},{"x":21.35,"y":11.0},{"x":21.4,"y":12.4},{"x":21.45,"y":13.7},{"x":21.5,"y":14.7},{"x":21.55,"y":15.1},{"x":21.6,"y":14.8},{"x":21.65,"y":13.8},{"x":21.7,"y":12.3},{"x":21.75,"y":10.9},{"x":21.8,"y":10.0},{"x":21.85,"y":9.6},{"x":21.9,"y":9.6},{"x":21.95,"y":10.0},{"x":22.0,"y":10.8},{"x":22.05,"y":11.8},{"x":22.1,"y":12.7},{"x":22.15,"y":13.3},{"x":22.2,"y":13.7},{"x":22.25,"y":13.8},{"x":22.3,"y":13.6},{"x":22.35,"y":13.0},{"x":22.4,"y":12.1},{"x":22.45,"y":11.2},{"x":22.5,"y":10.6},{"x":22.55,"y":10.4},{"x":22.6,"y":10.6},{"x":22.65,"y":11.2},{"x":22.7,"y":12.1},{"x":22.75,"y":13.1},{"x":22.8,"y":14.0},{"x":22.85,"y":14.7},{"x":22.9,"y":15.1},{"x":22.95,"y":15.4},{"x":23.0,"y":15.5},{"x":23.05,"y":15.3},{"x":23.1,"y":14.6},{"x":23.15,"y":13.4},{"x":23.2,"y":11.8},{"x":23.25,"y":10.0},{"x":23.3,"y":8.2},{"x":23.35,"y":6.9},{"x":23.4,"y":5.8},{"x":23.45,"y":4.9},{"x":23.5,"y":4.3},{"x":23.6,"y":3.6},{"x":23.7,"y":3.2},{"x":23.8,"y":3.0},{"x":23.9,"y":2.9},{"x":24.0,"y":2.8},{"x":24.1,"y":2.8},{"x":24.2,"y":2.8},{"x":24.3,"y":2.8},{"x":24.4,"y":2.8},{"x":24.5,"y":2.9},{"x":24.6,"y":2.9},{"x":24.7,"y":3.0},{"x":24.8,"y":3.2},{"x":24.9,"y":3.5},{"x":25.0,"y":3.9},{"x":25.05,"y":4.2},{"x":25.1,"y":4.6},{"x":25.15,"y":5.0},{"x":25.2,"y":5.3},{"x":25.25,"y":5.5},{"x":25.3,"y":5.5},{"x":25.35,"y":5.3},{"x":25.4,"y":5.0},{"x":25.45,"y":4.8},{"x":25.5,"y":4.8},{"x":25.55,"y":5.0},{"x":25.6,"y":5.4},{"x":25.65,"y":6.0},{"x":25.7,"y":6.9},{"x":25.75,"y":8.0},{"x":25.8,"y":9.4},{"x":25.85,"y":11.0},{"x":25.9,"y":12.6},{"x":25.95,"y":14.2},{"x":26.0,"y":15.6},{"x":26.05,"y":16.8},{"x":26.1,"y":17.7},{"x":26.15,"y":18.4},{"x":26.2,"y":18.8},{"x":26.25,"y":19.0},{"x":26.3,"y":18.9},{"x":26.35,"y":18.4},{"x":26.4,"y":17.5},{"x":26.45,"y":16.3},{"x":26.5,"y":14.9},{"x":26.55,"y":13.5},{"x":26.6,"y":12.2},{"x":26.65,"y":11.1},{"x":26.7,"y":10.3},{"x":26.75,"y":9.8},{"x":26.8,"y":9.6},{"x":26.85,"y":9.7},{"x":26.9,"y":10.0},{"x":26.95,"y":10.4},{"x":27.0,"y":10.7},{"x":27.05,"y":10.9},{"x":27.1,"y":11.0},{"x":27.15,"y":10.9},{"x":27.2,"y":10.6},{"x":27.25,"y":10.0},{"x":27.3,"y":9.2},{"x":27.35,"y":8.2},{"x":27.4,"y":7.1},{"x":27.45,"y":6.0},{"x":27.5,"y":5.1},{"x":27.55,"y":4.4},{"x":27.6,"y":3.9},{"x":27.7,"y":3.3},{"x":27.8,"y":3.0},{"x":27.9,"y":3.0},{"x":28.0,"y":3.3},{"x":28.05,"y":3.6},{"x":28.1,"y":4.0},{"x":28.15,"y":4.4},{"x":28.2,"y":4.8},{"x":28.25,"y":5.1},{"x":28.3,"y":5.3},{"x":28.35,"y":5.4},{"x":28.4,"y":5.4},{"x":28.45,"y":5.1},{"x":28.5,"y":4.6},{"x":28.55,"y":4.0},{"x":28.6,"y":3.5},{"x":28.7,"y":2.9},{"x":28.8,"y":2.6},{"x":28.9,"y":2.6},{"x":29.0,"y":2.6},{"x":29.1,"y":2.7},{"x":29.2,"y":3.0},{"x":29.3,"y":3.4},{"x":29.35,"y":3.8},{"x":29.4,"y":4.1},{"x":29.45,"y":4.4},{"x":29.5,"y":4.6},{"x":29.55,"y":4.7},{"x":29.6,"y":4.6},{"x":29.65,"y":4.3},{"x":29.7,"y":4.0},{"x":29.75,"y":3.8},{"x":29.8,"y":3.7},{"x":29.85,"y":3.8},{"x":29.9,"y":4.1},{"x":29.95,"y":4.6},{"x":30.0,"y":5.1},{"x":30.05,"y":5.6},{"x":30.1,"y":6.0},{"x":30.15,"y":6.3},{"x":30.2,"y":6.5},{"x":30.25,"y":6.6},{"x":30.3,"y":6.6},{"x":30.35,"y":6.4},{"x":30.4,"y":6.2},{"x":30.45,"y":6.1},{"x":30.5,"y":6.1},{"x":30.55,"y":6.3},{"x":30.6,"y":6.6},{"x":30.65,"y":6.9},{"x":30.7,"y":7.2},{"x":30.75,"y":7.4},{"x":30.8,"y":7.5},{"x":30.85,"y":7.5},{"x":30.9,"y":7.4},{"x":30.95,"y":7.4},{"x":31.0,"y":7.5},{"x":31.05,"y":7.7},{"x":31.1,"y":8.1},{"x":31.15,"y":8.5},{"x":31.2,"y":8.9},{"x":31.25,"y":9.2},{"x":31.3,"y":9.4},{"x":31.35,"y":9.5},{"x":31.4,"y":9.5},{"x":31.45,"y":9.3},{"x":31.5,"y":9.0},{"x":31.55,"y":8.6},{"x":31.6,"y":8.0},{"x":31.65,"y":7.3},{"x":31.7,"y":6.5},{"x":31.75,"y":5.6},{"x":31.8,"y":4.8},{"x":31.85,"y":4.2},{"x":31.9,"y":3.8},{"x":31.95,"y":3.7},{"x":32.0,"y":3.8},{"x":32.05,"y":4.0},{"x":32.1,"y":4.3},{"x":32.15,"y":4.5},{"x":32.2,"y":4.6},{"x":32.25,"y":4.5},{"x":32.3,"y":4.2},{"x":32.35,"y":3.8},{"x":32.4,"y":3.4},{"x":32.5,"y":3.0},{"x":32.6,"y":2.8},{"x":32.7,"y":2.7},{"x":32.8,"y":2.6},{"x":32.9,"y":2.6},{"x":33.0,"y":2.6},{"x":33.1,"y":2.6},{"x":33.2,"y":2.7},{"x":33.3,"y":2.8},{"x":33.4,"y":2.9},{"x":33.5,"y":3.1},{"x":33.6,"y":3.4},{"x":33.7,"y":3.9},{"x":33.75,"y":4.3},{"x":33.8,"y":4.8},{"x":33.85,"y":5.3},{"x":33.9,"y":5.7},{"x":33.95,"y":6.0},{"x":34.0,"y":6.2},{"x":34.05,"y":6.2},{"x":34.1,"y":6.0},{"x":34.15,"y":5.8},{"x":34.2,"y":5.6},{"x":34.25,"y":5.5},{"x":34.3,"y":5.5},{"x":34.35,"y":5.6},{"x":34.4,"y":5.8},{"x":34.45,"y":6.0},{"x":34.5,"y":6.2},{"x":34.55,"y":6.2},{"x":34.6,"y":6.1},{"x":34.65,"y":5.7},{"x":34.7,"y":5.2},{"x":34.75,"y":4.5},{"x":34.8,"y":3.9},{"x":34.85,"y":3.4},{"x":34.9,"y":3.0},{"x":35.0,"y":2.7},{"x":35.1,"y":2.5},{"x":35.2,"y":2.5},{"x":35.3,"y":2.4},{"x":35.4,"y":2.4},{"x":35.5,"y":2.4},{"x":35.6,"y":2.4},{"x":35.7,"y":2.4},{"x":35.8,"y":2.5},{"x":35.9,"y":2.5},{"x":36.0,"y":2.5},{"x":36.1,"y":2.6},{"x":36.2,"y":2.6},{"x":36.3,"y":2.7},{"x":36.4,"y":2.9},{"x":36.5,"y":3.2},{"x":36.6,"y":3.5},{"x":36.7,"y":3.6},{"x":36.8,"y":3.4},{"x":36.9,"y":3.0},{"x":37.0,"y":2.8},{"x":37.1,"y":2.8},{"x":37.2,"y":2.9},{"x":37.3,"y":3.1},{"x":37.4,"y":3.5},{"x":37.5,"y":3.9},{"x":37.6,"y":4.2},{"x":37.7,"y":4.1},{"x":37.8,"y":3.8},{"x":37.9,"y":3.6},{"x":38.0,"y":3.6},{"x":38.1,"y":3.9},{"x":38.2,"y":4.4},{"x":38.3,"y":4.8},{"x":38.4,"y":4.9},{"x":38.5,"y":4.6},{"x":38.6,"y":4.0},{"x":38.7,"y":3.3},{"x":38.8,"y":2.9},{"x":38.9,"y":2.6},{"x":39.0,"y":2.5},{"x":39.1,"y":2.4},{"x":39.2,"y":2.3},{"x":39.3,"y":2.3},{"x":39.4,"y":2.3},{"x":39.5,"y":2.2},{"x":39.6,"y":2.2},{"x":39.7,"y":2.2},{"x":39.8,"y":2.1},{"x":39.9,"y":2.1},{"x":40.0,"y":2.1}]
},
"hconcat": [
{
 "width": 556, "height": 380,
 "view": {"stroke": "#9a9a9a", "strokeWidth": 1},
 "layer": [
  {"data": {"name": "ab"}, "mark": {"type": "rule", "color": "#8cb83e", "strokeWidth": 2}, "encoding": {"x": {"field": "x", "type": "quantitative", "scale": {"domain": [5, 45], "nice": false, "zero": false}, "axis": {"values": [5,10,15,20,25,30,35,40,45], "title": "2θ (°, Mo-Kα)"}}, "y": {"datum": -11.0, "type": "quantitative", "scale": {"domain": [-36.5, 112.5], "nice": false, "zero": false}, "axis": {"title": "Intensity (arb. units)"}}, "y2": {"datum": -15.3}}},
  {"data": {"name": "ad"}, "mark": {"type": "line", "color": "#4fa7c9", "strokeWidth": 1}, "encoding": {"x": {"field": "x", "type": "quantitative"}, "y": {"field": "y", "type": "quantitative"}}},
  {"data": {"name": "ao"}, "mark": {"type": "line", "color": "#e8231d", "strokeWidth": 1.2}, "encoding": {"x": {"field": "x", "type": "quantitative"}, "y": {"field": "y", "type": "quantitative"}}},
  {"data": {"name": "ao"}, "mark": {"type": "point", "filled": false, "size": 18, "strokeWidth": 0.9, "color": "#1a1a1a", "opacity": 1}, "encoding": {"x": {"field": "x", "type": "quantitative"}, "y": {"field": "y", "type": "quantitative"}}},
  {"data": {"name": "al"}, "mark": {"type": "text", "angle": 270, "align": "left", "baseline": "middle", "fontSize": 11.5, "color": "#333"}, "encoding": {"x": {"field": "x", "type": "quantitative"}, "y": {"field": "y", "type": "quantitative"}, "text": {"field": "t"}}},
  {"data": {"values": [{}]}, "mark": {"type": "text", "align": "left", "baseline": "alphabetic", "fontSize": 32, "color": "#111"}, "encoding": {"x": {"datum": 2.63, "type": "quantitative"}, "y": {"datum": 110.2, "type": "quantitative"}, "text": {"value": "a"}}},
  {"data": {"values": [{}]}, "mark": {"type": "text", "align": "left", "baseline": "alphabetic", "fontSize": 21, "color": "#111"}, "encoding": {"x": {"datum": 5.48, "type": "quantitative"}, "y": {"datum": 102.9, "type": "quantitative"}, "text": {"value": "NaCrO"}}},
  {"data": {"values": [{}]}, "mark": {"type": "text", "align": "left", "baseline": "alphabetic", "fontSize": 14, "dx": 65.5, "dy": 4.5, "color": "#111"}, "encoding": {"x": {"datum": 5.48, "type": "quantitative"}, "y": {"datum": 102.9, "type": "quantitative"}, "text": {"value": "2"}}},
  {"data": {"values": [{}]}, "mark": {"type": "point", "filled": false, "size": 18, "strokeWidth": 1, "color": "#333", "opacity": 1}, "encoding": {"x": {"datum": 6.08, "type": "quantitative"}, "y": {"datum": 95.7, "type": "quantitative"}}},
  {"data": {"values": [{}]}, "mark": {"type": "rule", "color": "#e8231d", "strokeWidth": 1.5}, "encoding": {"x": {"datum": 5.81, "type": "quantitative"}, "x2": {"datum": 6.32}, "y": {"datum": 89.5, "type": "quantitative"}}},
  {"data": {"values": [{}]}, "mark": {"type": "rule", "color": "#8cb83e", "strokeWidth": 1.5}, "encoding": {"x": {"datum": 5.81, "type": "quantitative"}, "x2": {"datum": 6.32}, "y": {"datum": 83.3, "type": "quantitative"}}},
  {"data": {"values": [{}]}, "mark": {"type": "rule", "color": "#4fa7c9", "strokeWidth": 1.5}, "encoding": {"x": {"datum": 5.81, "type": "quantitative"}, "x2": {"datum": 6.32}, "y": {"datum": 76.7, "type": "quantitative"}}},
  {"data": {"values": [{}]}, "mark": {"type": "text", "align": "left", "baseline": "alphabetic", "fontSize": 13.5, "color": "#222"}, "encoding": {"x": {"datum": 6.6, "type": "quantitative"}, "y": {"datum": 93.8, "type": "quantitative"}, "text": {"value": "Data"}}},
  {"data": {"values": [{}]}, "mark": {"type": "text", "align": "left", "baseline": "alphabetic", "fontSize": 13.5, "lineHeight": 16.3, "color": "#222"}, "encoding": {"x": {"datum": 6.84, "type": "quantitative"}, "y": {"datum": 87.6, "type": "quantitative"}, "text": {"value": ["Fit", "Bragg Peaks", "Difference"]}}},
  {"data": {"values": [{}]}, "mark": {"type": "text", "align": "right", "baseline": "alphabetic", "fontSize": 15, "lineHeight": 22.7, "color": "#222"}, "encoding": {"x": {"datum": 44.25, "type": "quantitative"}, "y": {"datum": 103.3, "type": "quantitative"}, "text": {"value": ["Space Group: R3̄m", "a = b = 2.972(4), c = 15.960(1) Å", "α = β = 90, γ = 120°", "Na : (0, 0, 0.5000)", "Cr : (0, 0, 0)", "O : (0, 0, 0.2675(2))"]}}},
  {"data": {"values": [{}]}, "mark": {"type": "text", "align": "right", "baseline": "alphabetic", "fontSize": 15, "color": "#222"}, "encoding": {"x": {"datum": 44.25, "type": "quantitative"}, "y": {"datum": 46.3, "type": "quantitative"}, "text": {"value": " = 8%"}}},
  {"data": {"values": [{}]}, "mark": {"type": "text", "align": "right", "baseline": "alphabetic", "fontSize": 10, "dx": -38.8, "dy": 4, "color": "#222"}, "encoding": {"x": {"datum": 44.25, "type": "quantitative"}, "y": {"datum": 46.3, "type": "quantitative"}, "text": {"value": "Bragg"}}},
  {"data": {"values": [{}]}, "mark": {"type": "text", "align": "right", "baseline": "alphabetic", "fontSize": 15, "dx": -65.5, "color": "#222"}, "encoding": {"x": {"datum": 44.25, "type": "quantitative"}, "y": {"datum": 46.3, "type": "quantitative"}, "text": {"value": " = 12.5% ; R"}}},
  {"data": {"values": [{}]}, "mark": {"type": "text", "align": "right", "baseline": "alphabetic", "fontSize": 10, "dx": -148.4, "dy": 4, "color": "#222"}, "encoding": {"x": {"datum": 44.25, "type": "quantitative"}, "y": {"datum": 46.3, "type": "quantitative"}, "text": {"value": "wp"}}},
  {"data": {"values": [{}]}, "mark": {"type": "text", "align": "right", "baseline": "alphabetic", "fontSize": 15, "dx": -161.2, "color": "#222"}, "encoding": {"x": {"datum": 44.25, "type": "quantitative"}, "y": {"datum": 46.3, "type": "quantitative"}, "text": {"value": "R"}}}
 ]
},
{
 "width": 555, "height": 380,
 "view": {"stroke": "#9a9a9a", "strokeWidth": 1},
 "layer": [
  {"data": {"name": "bb"}, "mark": {"type": "rule", "color": "#8cb83e", "strokeWidth": 2}, "encoding": {"x": {"field": "x", "type": "quantitative", "scale": {"domain": [5, 40], "nice": false, "zero": false}, "axis": {"values": [5,10,15,20,25,30,35,40], "title": "2θ (°, Mo-Kα)"}}, "y": {"datum": -10.8, "type": "quantitative", "scale": {"domain": [-39, 118.7], "nice": false, "zero": false}, "axis": {"title": "Intensity (arb. units)"}}, "y2": {"datum": -16.1}}},
  {"data": {"name": "bd"}, "mark": {"type": "line", "color": "#4fa7c9", "strokeWidth": 1}, "encoding": {"x": {"field": "x", "type": "quantitative"}, "y": {"field": "y", "type": "quantitative"}}},
  {"data": {"name": "bo"}, "mark": {"type": "line", "color": "#e8231d", "strokeWidth": 1.2}, "encoding": {"x": {"field": "x", "type": "quantitative"}, "y": {"field": "y", "type": "quantitative"}}},
  {"data": {"name": "bf"}, "mark": {"type": "line", "color": "#e8231d", "strokeWidth": 1.5}, "encoding": {"x": {"field": "x", "type": "quantitative"}, "y": {"field": "y", "type": "quantitative"}, "detail": {"field": "s", "type": "nominal"}}},
  {"data": {"name": "bo"}, "mark": {"type": "point", "filled": false, "size": 18, "strokeWidth": 0.9, "color": "#1a1a1a", "opacity": 1}, "encoding": {"x": {"field": "x", "type": "quantitative"}, "y": {"field": "y", "type": "quantitative"}}},
  {"data": {"name": "bl"}, "mark": {"type": "text", "angle": 270, "align": "left", "baseline": "middle", "fontSize": 11.5, "color": "#333"}, "encoding": {"x": {"field": "x", "type": "quantitative"}, "y": {"field": "y", "type": "quantitative"}, "text": {"field": "t"}}},
  {"data": {"values": [{}]}, "mark": {"type": "text", "align": "left", "baseline": "alphabetic", "fontSize": 32, "color": "#111"}, "encoding": {"x": {"datum": 2.855, "type": "quantitative"}, "y": {"datum": 116.2, "type": "quantitative"}, "text": {"value": "b"}}},
  {"data": {"values": [{}]}, "mark": {"type": "text", "align": "left", "baseline": "alphabetic", "fontSize": 22, "color": "#111"}, "encoding": {"x": {"datum": 16.76, "type": "quantitative"}, "y": {"datum": 107.8, "type": "quantitative"}, "text": {"value": "Na"}}},
  {"data": {"values": [{}]}, "mark": {"type": "text", "align": "left", "baseline": "alphabetic", "fontSize": 15, "dx": 28.1, "dy": 4.5, "color": "#111"}, "encoding": {"x": {"datum": 16.76, "type": "quantitative"}, "y": {"datum": 107.8, "type": "quantitative"}, "text": {"value": "9"}}},
  {"data": {"values": [{}]}, "mark": {"type": "text", "align": "left", "baseline": "alphabetic", "fontSize": 22, "dx": 36.4, "color": "#111"}, "encoding": {"x": {"datum": 16.76, "type": "quantitative"}, "y": {"datum": 107.8, "type": "quantitative"}, "text": {"value": "Sn"}}},
  {"data": {"values": [{}]}, "mark": {"type": "text", "align": "left", "baseline": "alphabetic", "fontSize": 15, "dx": 63.3, "dy": 4.5, "color": "#111"}, "encoding": {"x": {"datum": 16.76, "type": "quantitative"}, "y": {"datum": 107.8, "type": "quantitative"}, "text": {"value": "4"}}},
  {"data": {"values": [{}]}, "mark": {"type": "point", "filled": false, "size": 18, "strokeWidth": 1, "color": "#333", "opacity": 1}, "encoding": {"x": {"datum": 17.81, "type": "quantitative"}, "y": {"datum": 99.7, "type": "quantitative"}}},
  {"data": {"values": [{}]}, "mark": {"type": "rule", "color": "#e8231d", "strokeWidth": 1.5}, "encoding": {"x": {"datum": 17.7, "type": "quantitative"}, "x2": {"datum": 18.12}, "y": {"datum": 92.8, "type": "quantitative"}}},
  {"data": {"values": [{}]}, "mark": {"type": "rule", "color": "#8cb83e", "strokeWidth": 1.5}, "encoding": {"x": {"datum": 17.7, "type": "quantitative"}, "x2": {"datum": 18.12}, "y": {"datum": 85.9, "type": "quantitative"}}},
  {"data": {"values": [{}]}, "mark": {"type": "rule", "color": "#4fa7c9", "strokeWidth": 1.5}, "encoding": {"x": {"datum": 17.7, "type": "quantitative"}, "x2": {"datum": 18.12}, "y": {"datum": 79.4, "type": "quantitative"}}},
  {"data": {"values": [{}]}, "mark": {"type": "text", "align": "left", "baseline": "alphabetic", "fontSize": 13.5, "color": "#222"}, "encoding": {"x": {"datum": 18.27, "type": "quantitative"}, "y": {"datum": 97.7, "type": "quantitative"}, "text": {"value": "Data"}}},
  {"data": {"values": [{}]}, "mark": {"type": "text", "align": "left", "baseline": "alphabetic", "fontSize": 13.5, "lineHeight": 16.2, "color": "#222"}, "encoding": {"x": {"datum": 18.58, "type": "quantitative"}, "y": {"datum": 90.8, "type": "quantitative"}, "text": {"value": ["Fit", "Bragg Peaks", "Difference"]}}},
  {"data": {"values": [{}]}, "mark": {"type": "text", "align": "right", "baseline": "alphabetic", "fontSize": 15, "lineHeight": 22.5, "color": "#222"}, "encoding": {"x": {"datum": 39.4, "type": "quantitative"}, "y": {"datum": 108.1, "type": "quantitative"}, "text": {"value": ["Space Group: R3̄m", "a = b = 5.433(1), c = 22.409(6) Å", "α = β = 90, 90, γ = 120°", "Na : (0, 0, 0.5000)", "Na : (0, 0, 0.3614(8))", "Na : (0, 0, 0.210(1))", "Sn : (0, 0, 0.0634(2))"]}}},
  {"data": {"values": [{}]}, "mark": {"type": "text", "align": "right", "baseline": "alphabetic", "fontSize": 15, "color": "#222"}, "encoding": {"x": {"datum": 39.4, "type": "quantitative"}, "y": {"datum": 43.2, "type": "quantitative"}, "text": {"value": " = 4.8%"}}},
  {"data": {"values": [{}]}, "mark": {"type": "text", "align": "right", "baseline": "alphabetic", "fontSize": 10, "dx": -51.3, "dy": 4, "color": "#222"}, "encoding": {"x": {"datum": 39.4, "type": "quantitative"}, "y": {"datum": 43.2, "type": "quantitative"}, "text": {"value": "Bragg"}}},
  {"data": {"values": [{}]}, "mark": {"type": "text", "align": "right", "baseline": "alphabetic", "fontSize": 15, "dx": -78.0, "color": "#222"}, "encoding": {"x": {"datum": 39.4, "type": "quantitative"}, "y": {"datum": 43.2, "type": "quantitative"}, "text": {"value": " = 13.1% ; R"}}},
  {"data": {"values": [{}]}, "mark": {"type": "text", "align": "right", "baseline": "alphabetic", "fontSize": 10, "dx": -160.9, "dy": 4, "color": "#222"}, "encoding": {"x": {"datum": 39.4, "type": "quantitative"}, "y": {"datum": 43.2, "type": "quantitative"}, "text": {"value": "wp"}}},
  {"data": {"values": [{}]}, "mark": {"type": "text", "align": "right", "baseline": "alphabetic", "fontSize": 15, "dx": -173.7, "color": "#222"}, "encoding": {"x": {"datum": 39.4, "type": "quantitative"}, "y": {"datum": 43.2, "type": "quantitative"}, "text": {"value": "R"}}}
 ]
}
]
}
